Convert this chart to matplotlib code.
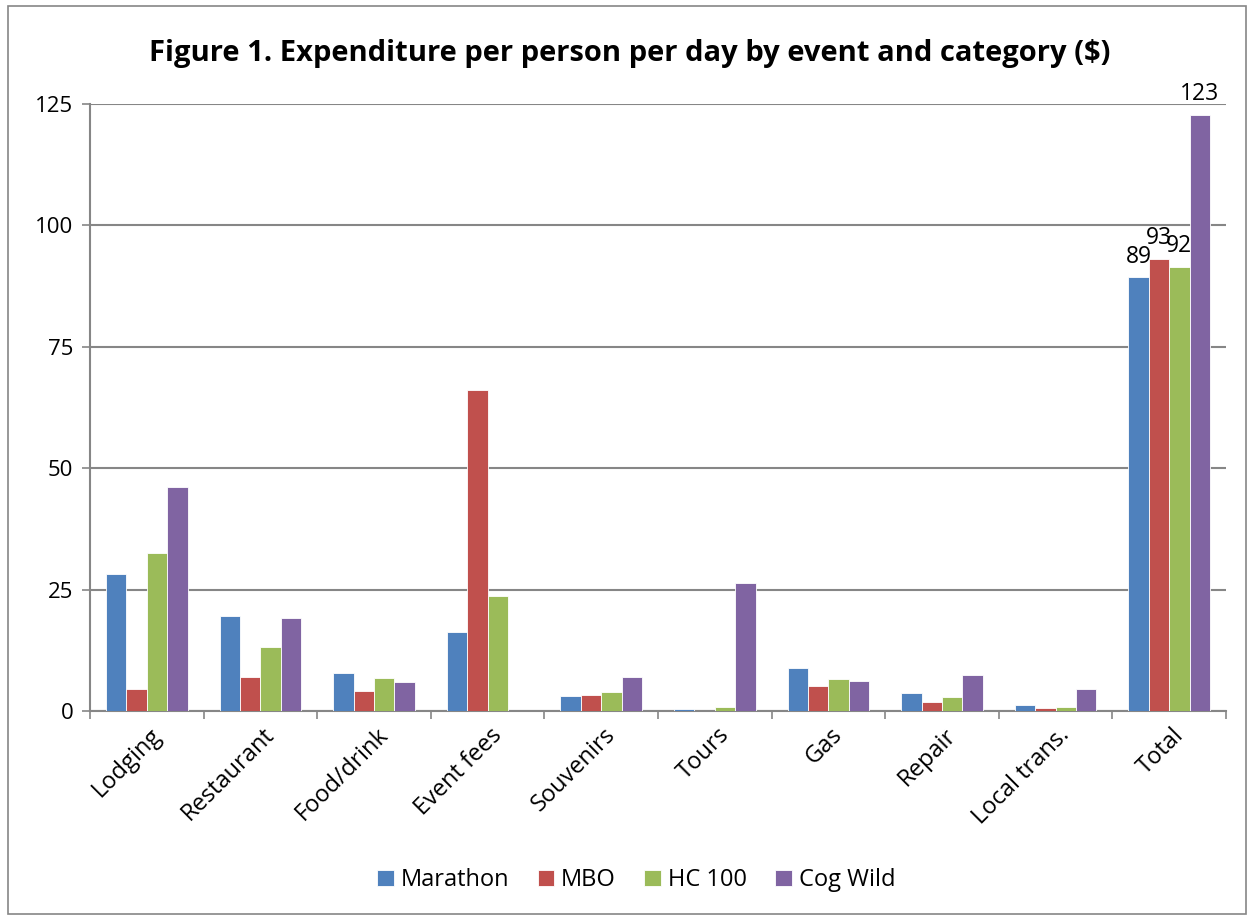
import matplotlib.pyplot as plt
import numpy as np
from matplotlib.patches import Rectangle

categories = ["Lodging", "Restaurant", "Food/drink", "Event fees", "Souvenirs",
              "Tours", "Gas", "Repair", "Local trans.", "Total"]
series_names = ["Marathon", "MBO", "HC 100", "Cog Wild"]
marathon = [28.3, 19.5, 7.8, 16.2, 3.1, 0.4, 8.9, 3.8, 1.3, 89.3]
mbo = [4.6, 7.1, 4.1, 66.1, 3.3, 0.0, 5.2, 1.9, 0.6, 93.1]
hc100 = [32.6, 13.2, 6.9, 23.6, 3.85, 0.8, 6.6, 2.85, 0.85, 91.4]
cog_wild = [46.1, 19.1, 5.9, 0.0, 7.1, 26.4, 6.1, 7.35, 4.6, 122.7]
total_labels = ["89", "93", "92", "123"]
y_ticks = [0, 25, 50, 75, 100, 125]

colors = ["#4F81BD", "#C0504D", "#9BBB59", "#8064A2"]
series = [marathon, mbo, hc100, cog_wild]

plt.rcParams["font.family"] = ["Open Sans", "DejaVu Sans"]

fig = plt.figure(figsize=(12.5, 9.17), dpi=100)
ax = fig.add_axes([0.072, 0.2246, 0.9088, 0.662])

# outer chart border
fig.patches.append(Rectangle((0.006, 0.003), 0.991, 0.99, transform=fig.transFigure,
                             fill=False, edgecolor="#868686", linewidth=1.2))

x = np.arange(len(categories))
width = 0.18
for i, (vals, name, col) in enumerate(zip(series, series_names, colors)):
    offs = (i - 1.5) * width
    ax.bar(x + offs, vals, width, color=col, label=name,
           edgecolor="white", linewidth=0.6, zorder=3)
    # data label for the Total group only
    ax.text(x[-1] + offs, vals[-1] + 1.8, total_labels[i], ha="center", va="bottom",
            fontsize=16.5, zorder=4)

ax.set_xlim(-0.5, len(categories) - 0.5)
ax.set_ylim(0, 125)
ax.set_yticks(y_ticks)
ax.set_yticklabels([str(v) for v in y_ticks], fontsize=16)
ax.yaxis.grid(True, color="#868686", linewidth=1.5, zorder=0)
ax.set_axisbelow(True)

# category boundary ticks on x axis
ax.set_xticks(np.arange(len(categories) + 1) - 0.5)
ax.set_xticklabels([])
ax.tick_params(axis="x", length=6, color="#868686", width=1.2)
ax.tick_params(axis="y", length=6, color="#868686", width=1.2, pad=6)
for c, lab in zip(x, categories):
    ax.text(c + 0.02, -2.5, lab, rotation=45, ha="right", va="top",
            rotation_mode="anchor", fontsize=17)

for s in ["top", "right"]:
    ax.spines[s].set_visible(False)
for s in ["left", "bottom"]:
    ax.spines[s].set_color("#868686")
    ax.spines[s].set_linewidth(1.5)

fig.text(0.504, 0.942, "Figure 1. Expenditure per person per day by event and category ($)",
         ha="center", va="center", fontsize=21, fontweight="bold")

fig.legend(loc="center", bbox_to_anchor=(0.509, 0.04), ncol=4, frameon=False,
           fontsize=17, handlelength=0.7, handleheight=0.7, handletextpad=0.3,
           columnspacing=1.2)

fig.savefig("out.png", dpi=100)
